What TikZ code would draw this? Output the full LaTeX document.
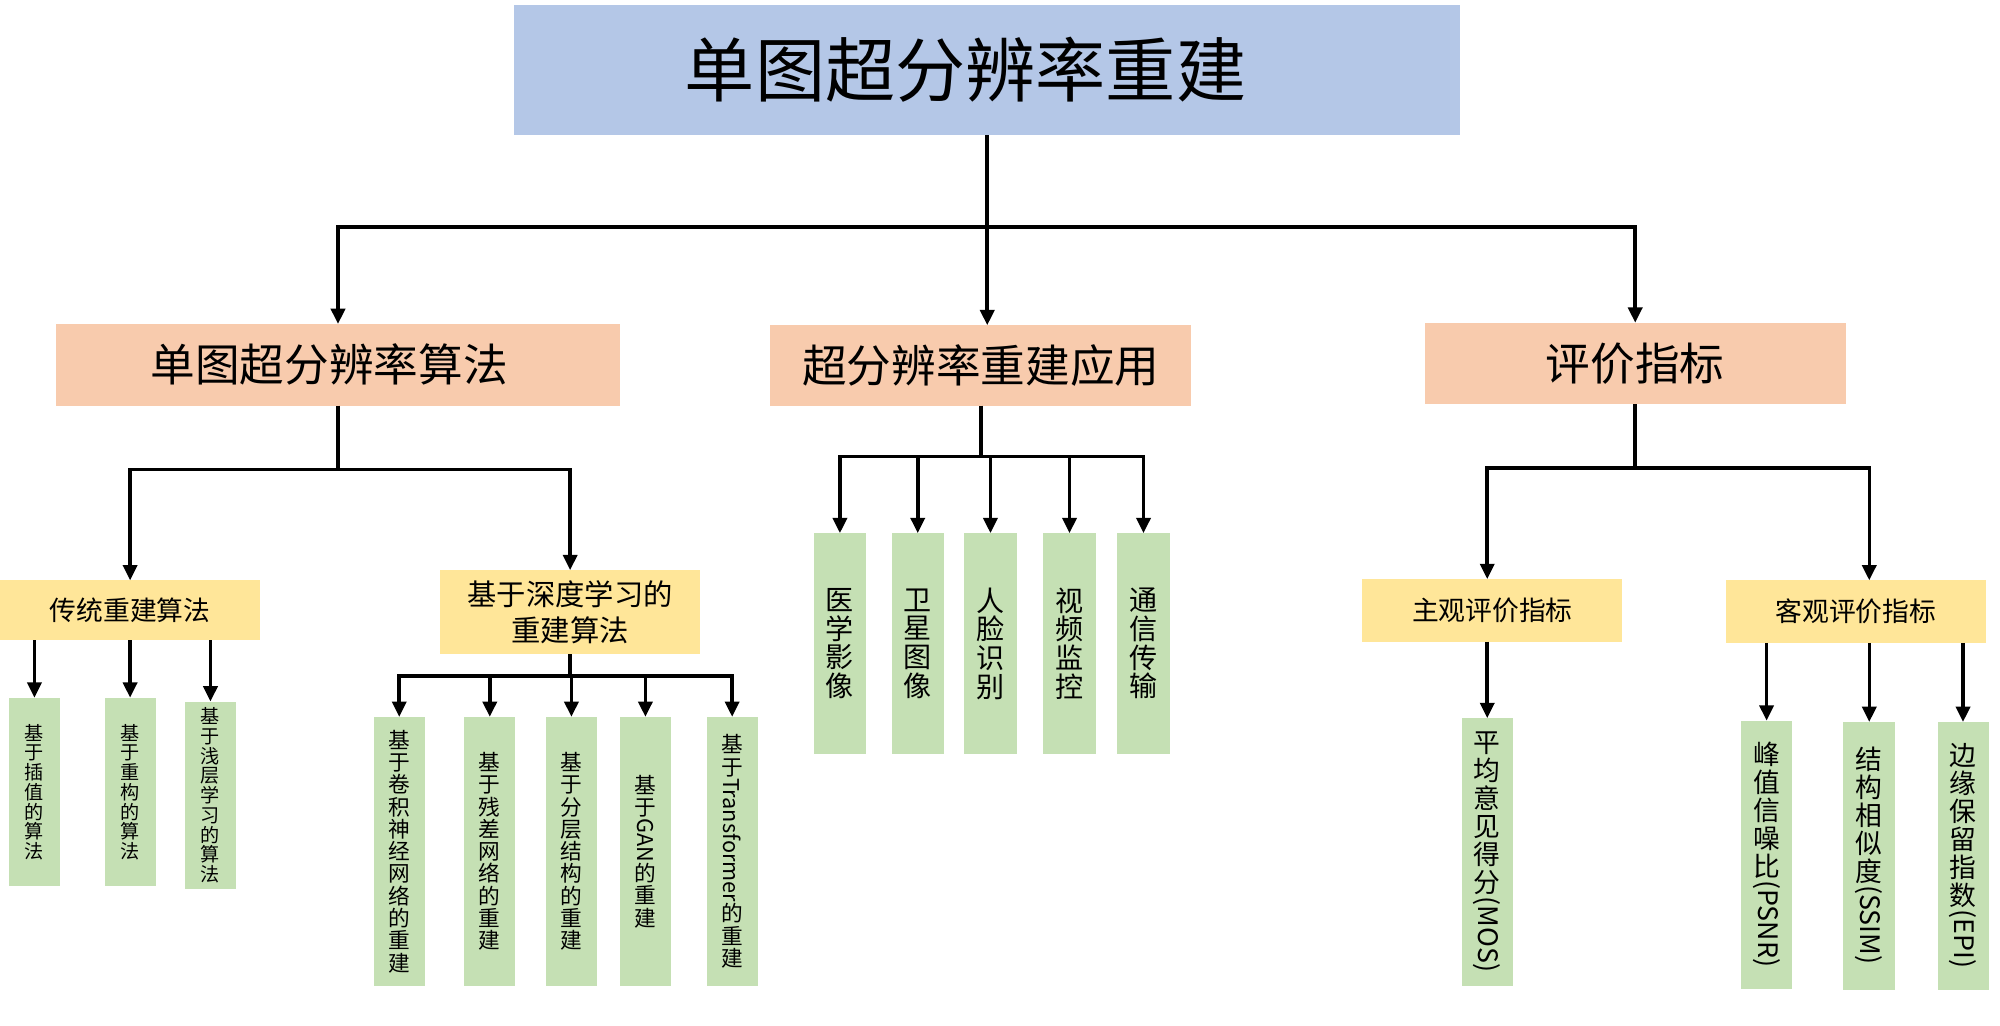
\documentclass[tikz,border=0pt]{standalone}
\usepackage{fontspec}
\setmainfont{Noto Sans CJK SC}
\usepackage{graphicx}
\usetikzlibrary{arrows.meta}
\definecolor{tblue}{HTML}{B4C7E7}
\definecolor{salm}{HTML}{F8CBAD}
\definecolor{yell}{HTML}{FFE699}
\definecolor{grn}{HTML}{C5E0B4}
\newcommand{\fsz}[2]{\fontsize{#1}{#2}\selectfont}
\newcommand{\rlat}[1]{\rotatebox[origin=c]{-90}{#1}}
\begin{document}
\begin{tikzpicture}[x=1pt,y=-1pt,
  box/.style={inner sep=0pt, outer sep=0pt, anchor=center, align=center, text=black},
  tbox/.style={box, fill=tblue},
  sbox/.style={box, fill=salm, font=\fsz{35}{40}},
  ybox/.style={box, fill=yell, font=\fsz{21}{28}},
  gbox/.style={box, fill=grn, minimum width=40pt},
  conn/.style={line width=2.8pt, draw=black},
  arr/.style={conn, -{Triangle[length=12pt,width=11pt]}}]
\useasboundingbox (0,0) rectangle (1568,804);
% top
\node[tbox, minimum width=742pt, minimum height=102pt, font=\fsz{55}{60}] (title) at (774,55) {单图超分辨率重建\hspace*{34pt}};
\node[sbox, minimum width=442pt, minimum height=64pt] (a1) at (265,286) {单图超分辨率算法\hspace*{14pt}};
\node[sbox, minimum width=330pt, minimum height=63pt] (a2) at (769,286.5) {超分辨率重建应用};
\node[sbox, minimum width=330pt, minimum height=64pt] (a3) at (1282,285) {评价指标};
% yellow
\node[ybox, minimum width=204pt, minimum height=47pt] (b1) at (102,478.5) {传统重建算法};
\node[ybox, minimum width=204pt, minimum height=66pt, font=\fsz{23}{28}] (b2) at (447,480) {基于深度学习的\\重建算法};
\node[ybox, minimum width=204pt, minimum height=49pt] (c1) at (1170,478.5) {主观评价指标};
\node[ybox, minimum width=204pt, minimum height=49pt] (c2) at (1455,479.5) {客观评价指标};
% green: traditional
\node[gbox, minimum height=148pt, font=\fsz{15}{15.5}] (g1) at (27,621) {基\\于\\插\\值\\的\\算\\法};
\node[gbox, minimum height=148pt, font=\fsz{15}{15.5}] (g2) at (102,621) {基\\于\\重\\构\\的\\算\\法};
\node[gbox, minimum height=147pt, font=\fsz{15}{15.5}] (g3) at (165,623.5) {基\\于\\浅\\层\\学\\习\\的\\算\\法};
% green: deep learning
\node[gbox, minimum height=211pt, font=\fsz{17}{17.5}] (d1) at (313,667.5) {基\\于\\卷\\积\\神\\经\\网\\络\\的\\重\\建};
\node[gbox, minimum height=211pt, font=\fsz{17}{17.5}] (d2) at (384,667.5) {基\\于\\残\\差\\网\\络\\的\\重\\建};
\node[gbox, minimum height=211pt, font=\fsz{17}{17.5}] (d3) at (448,667.5) {基\\于\\分\\层\\结\\构\\的\\重\\建};
\node[gbox, minimum height=211pt, font=\fsz{17}{17.5}] (d4) at (506,667.5) {基\\于\\\rlat{GAN}\\的\\重\\建};
\node[gbox, minimum height=211pt, font=\fsz{17}{17.5}] (d5) at (574,667.5) {基\\于\\\rlat{Transformer}\\的\\重\\建};
% green: applications
\node[gbox, minimum width=41pt, minimum height=173pt, font=\fsz{22}{22.5}] (e1) at (658.5,504.5) {医\\学\\影\\像};
\node[gbox, minimum width=41pt, minimum height=173pt, font=\fsz{22}{22.5}] (e2) at (719.5,504.5) {卫\\星\\图\\像};
\node[gbox, minimum width=41pt, minimum height=173pt, font=\fsz{22}{22.5}] (e3) at (776.5,504.5) {人\\脸\\识\\别};
\node[gbox, minimum width=41pt, minimum height=173pt, font=\fsz{22}{22.5}] (e4) at (838.5,504.5) {视\\频\\监\\控};
\node[gbox, minimum width=41pt, minimum height=173pt, font=\fsz{22}{22.5}] (e5) at (896.5,504.5) {通\\信\\传\\输};
% green: metrics
\node[gbox, minimum height=210pt, font=\fsz{21}{22}] (m1) at (1166,668) {平\\均\\意\\见\\得\\分\\\rlat{(MOS)}};
\node[gbox, minimum height=210pt, font=\fsz{21}{22}] (m2) at (1385,670) {峰\\值\\信\\噪\\比\\\rlat{(PSNR)}};
\node[gbox, minimum width=41pt, minimum height=210pt, font=\fsz{21}{22}] (m3) at (1465.5,671) {结\\构\\相\\似\\度\\\rlat{(SSIM)}};
\node[gbox, minimum height=210pt, font=\fsz{21}{22}] (m4) at (1539,671) {边\\缘\\保\\留\\指\\数\\\rlat{(EPI)}};
% connectors: top level
\coordinate (j0) at (774,178);
\draw[conn] (title.south) -- (j0);
\draw[arr] (j0) -| (a1.north);
\draw[arr] (j0) -| (a3.north);
\draw[arr] (j0) -- (j0 |- a2.north);
% algorithms branch
\draw[conn] (a1.south) -- ++(0,50) coordinate (j1);
\draw[arr] (j1) -| (b1.north);
\draw[arr] (j1) -| (b2.north);
\foreach \g in {g1,g2,g3}{\draw[arr] (\g.north |- b1.south) -- (\g.north);}
\draw[conn] (b2.south) -- ++(0,17) coordinate (j2);
\foreach \d in {d1,d2,d3,d4,d5}{\draw[arr] (j2) -| (\d.north);}
% applications branch
\draw[conn] (a2.south) -- ++(0,40) coordinate (j3);
\foreach \e in {e1,e2,e3,e4,e5}{\draw[arr] (j3) -| (\e.north);}
% metrics branch
\draw[conn] (a3.south) -- ++(0,50) coordinate (j4);
\draw[arr] (j4) -| (m1.north |- c1.north);
\draw[arr] (j4) -| (m3.north |- c2.north);
\draw[arr] (m1.north |- c1.south) -- (m1.north);
\foreach \m in {m2,m3,m4}{\draw[arr] (\m.north |- c2.south) -- (\m.north);}
\end{tikzpicture}
\end{document}
